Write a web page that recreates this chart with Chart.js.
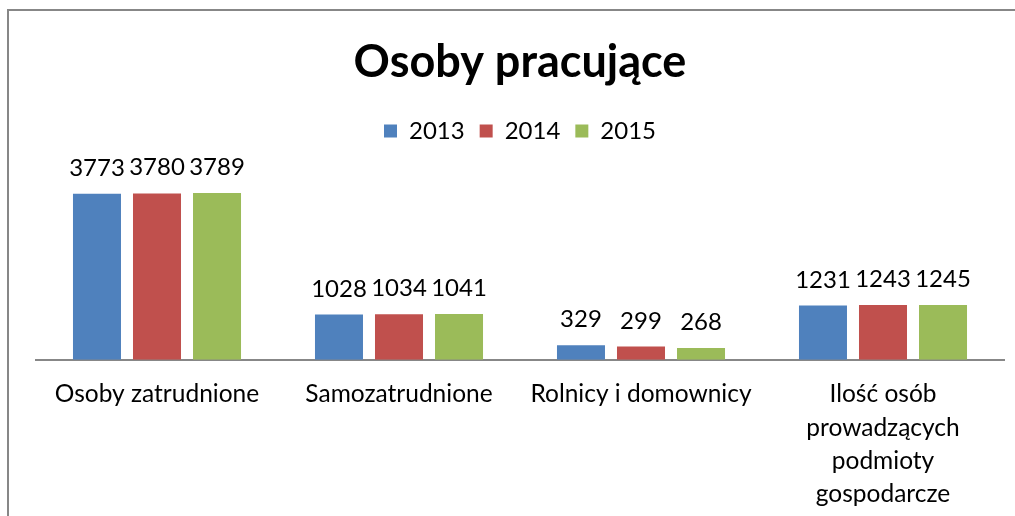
<!DOCTYPE html>
<html>
<head>
<meta charset="utf-8">
<script src="https://cdn.jsdelivr.net/npm/chart.js@4.4.0/dist/chart.umd.min.js"></script>
<style>
  html, body { margin: 0; padding: 0; background: #fff; overflow: hidden; }
  #frame {
    position: absolute; left: 7px; top: 9px; width: 1100px; height: 600px;
    border-left: 2px solid #878787; border-top: 2px solid #878787;
  }
  #wrap { position: absolute; left: 0; top: 0; width: 1015px; height: 524px; }
</style>
</head>
<body>
<div id="frame"></div>
<div id="wrap"><canvas id="chart"></canvas></div>
<script>
  var categories = [
    'Osoby zatrudnione',
    'Samozatrudnione',
    'Rolnicy i domownicy',
    ['Ilość osób', 'prowadzących', 'podmioty', 'gospodarcze']
  ];
  var years = ['2013', '2014', '2015'];
  var values2013 = [3773, 1028, 329, 1231];
  var values2014 = [3780, 1034, 299, 1243];
  var values2015 = [3789, 1041, 268, 1245];
  var colors = ['#4f81bd', '#c0504d', '#9bbb59'];

  var FONT = 'Lato, "Open Sans", sans-serif';

  // value labels above each bar
  var valueLabels = {
    id: 'valueLabels',
    afterDatasetsDraw: function (chart) {
      var ctx = chart.ctx;
      ctx.save();
      ctx.font = '24px ' + FONT;
      ctx.fillStyle = '#000';
      ctx.textAlign = 'center';
      ctx.textBaseline = 'alphabetic';
      chart.data.datasets.forEach(function (ds, i) {
        chart.getDatasetMeta(i).data.forEach(function (bar, j) {
          ctx.fillText(String(ds.data[j]), bar.x, bar.y - 18);
        });
      });
      ctx.restore();
    }
  };

  function makeDataset(label, data, color) {
    return {
      label: label,
      data: data,
      backgroundColor: color,
      borderWidth: 0,
      categoryPercentage: 0.744,
      barPercentage: 0.8
    };
  }

  new Chart(document.getElementById('chart'), {
    type: 'bar',
    data: {
      labels: categories,
      datasets: [
        makeDataset(years[0], values2013, colors[0]),
        makeDataset(years[1], values2014, colors[1]),
        makeDataset(years[2], values2015, colors[2])
      ]
    },
    plugins: [valueLabels],
    options: {
      responsive: true,
      maintainAspectRatio: false,
      animation: false,
      layout: { padding: { left: 36, right: 11, top: 0, bottom: 3 } },
      plugins: {
        title: {
          display: true,
          text: 'Osoby pracujące',
          color: '#000',
          font: { family: FONT, size: 45, weight: 'bold' },
          padding: { top: 35, bottom: 15 }
        },
        legend: {
          position: 'top',
          labels: {
            color: '#000',
            font: { family: FONT, size: 24 },
            boxWidth: 13,
            boxHeight: 13,
            padding: 15
          }
        },
        tooltip: { enabled: false }
      },
      scales: {
        x: {
          grid: { display: false },
          border: { display: true, color: '#878787', width: 2 },
          ticks: {
            color: '#000',
            font: { family: FONT, size: 24.5, lineHeight: 1.36 },
            padding: 10,
            maxRotation: 0,
            autoSkip: false
          }
        },
        y: {
          display: false,
          min: 0,
          max: 4700
        }
      }
    }
  });
</script>
</body>
</html>
